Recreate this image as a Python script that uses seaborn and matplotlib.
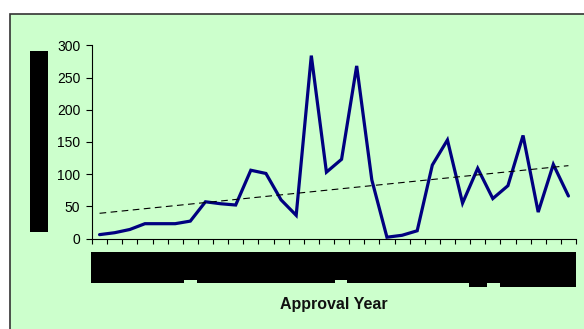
import numpy as np
import pandas as pd
import matplotlib
matplotlib.use("Agg")
import matplotlib.pyplot as plt
from matplotlib.patches import Rectangle
import seaborn as sns

# Approvals per year, in chronological order
approvals = [6, 9, 14, 23, 23, 23, 27, 57, 54, 52, 106, 101, 60, 36,
             284, 103, 123, 268, 91, 2, 5, 12, 114, 153, 55, 109, 62, 82,
             160, 41, 115, 66]
year_index = list(range(len(approvals)))
y_ticks = [0, 50, 100, 150, 200, 250, 300]
x_title = "Approval Year"

df = pd.DataFrame({"year": year_index, "approvals": approvals})

sns.set_theme(style="ticks")
plt.rcParams["font.family"] = ["Liberation Sans", "DejaVu Sans"]

W, H = 584, 329
fig = plt.figure(figsize=(W / 100, H / 100), dpi=100)
fig.patch.set_facecolor("white")


def px(x0, y0, x1, y1):
    """Rectangle in figure pixels (origin top-left) -> figure fraction."""
    return (x0 / W, 1 - y1 / H), (x1 - x0) / W, (y1 - y0) / H


# green chart panel with a dark frame on the top and left
(xy, w, h) = px(9.5, 14, 600, 345)
fig.patches.append(Rectangle(xy, w, h, transform=fig.transFigure,
                             facecolor="#CCFFCC", edgecolor="#333333",
                             lw=1.2, zorder=-5))

ax = fig.add_axes([92 / W, 1 - 238.5 / H, (576 - 92) / W, (238.5 - 45.3) / H])
ax.set_zorder(2)
ax.patch.set_alpha(0)

sns.lineplot(data=df, x="year", y="approvals", ax=ax, color="#000080",
             lw=2.3, solid_joinstyle="miter")
sns.regplot(data=df, x="year", y="approvals", ax=ax, scatter=False, ci=None,
            truncate=True,
            line_kws=dict(color="black", lw=0.8, ls=(0, (6, 4))))

ax.set_xlim(-0.5, len(approvals) - 0.5)
ax.set_ylim(0, 300)
ax.set_xticks(np.arange(-0.5, len(approvals)))
ax.set_xticklabels([])
ax.set_yticks(y_ticks)
ax.set_yticklabels([str(t) for t in y_ticks], fontsize=10, color="black")
ax.tick_params(axis="y", direction="out", length=4, width=0.8, pad=4.5,
               color="black")
ax.tick_params(axis="x", direction="out", length=3.5, width=0.8,
               color="black")
ax.set_xlabel("")
ax.set_ylabel("")
for side in ("top", "right"):
    ax.spines[side].set_visible(False)
for side in ("left", "bottom"):
    ax.spines[side].set_color("black")
    ax.spines[side].set_linewidth(0.8)

# blacked-out axis title and year labels
blocks = [
    (30, 51, 48, 232),
    (91, 252, 576, 280),
    (91, 280, 184, 283.3),
    (196.5, 280, 335, 283.3),
    (347, 280, 576, 283.3),
    (469, 283.3, 487, 286.7),
    (499.5, 283.3, 576, 286.7),
]
for b in blocks:
    (xy, w, h) = px(*b)
    fig.patches.append(Rectangle(xy, w, h, transform=fig.transFigure,
                                 facecolor="black", edgecolor="none", zorder=3))

fig.text(334 / W, 1 - 304 / H, x_title, ha="center", va="center",
         fontsize=11.5, fontweight="bold", color="#111111")

fig.savefig("out.png", dpi=100)
